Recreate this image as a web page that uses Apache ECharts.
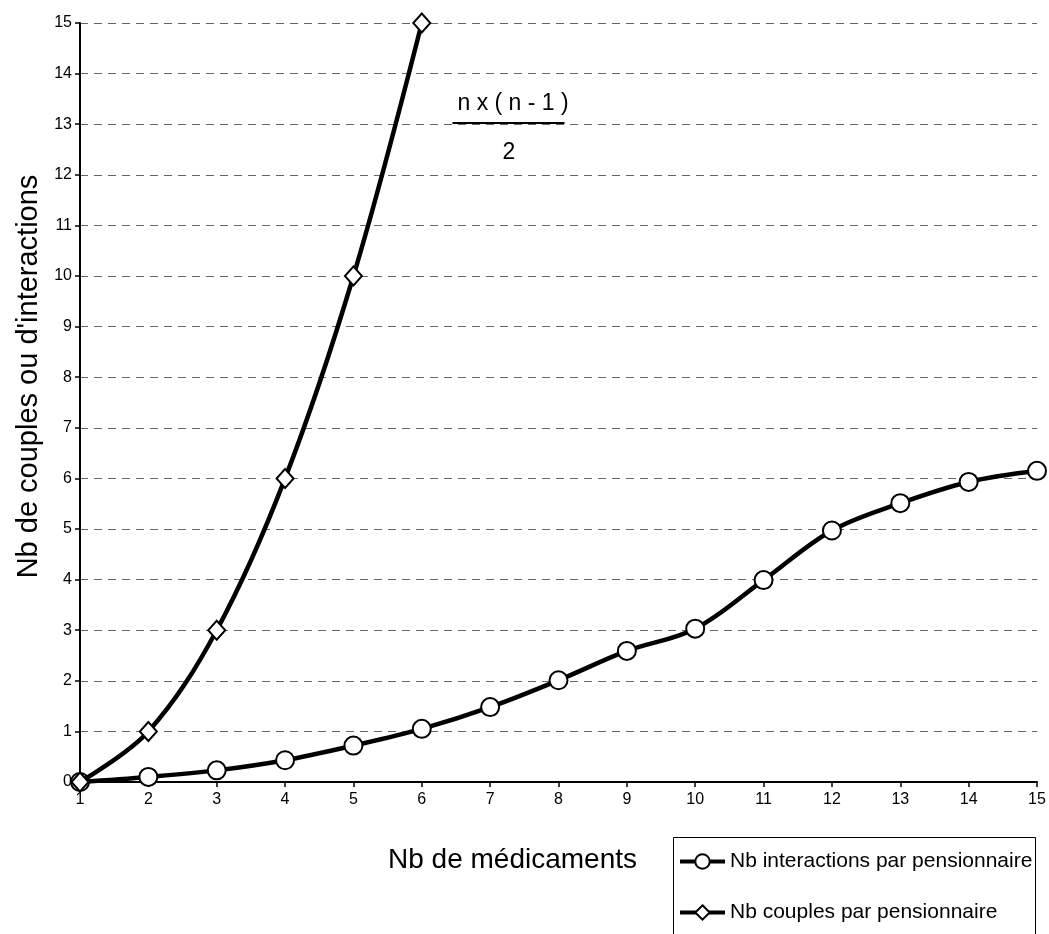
<!DOCTYPE html>
<html>
<head>
<meta charset="utf-8">
<script src="https://cdn.jsdelivr.net/npm/echarts@6/dist/echarts.min.js"></script>
<style>
  html, body { margin: 0; padding: 0; background: #fff; }
  #chart { width: 1049px; height: 934px; }
</style>
</head>
<body>
<div id="chart"></div>
<script>
// Number of drugs per resident (x axis)
const medicaments = [1, 2, 3, 4, 5, 6, 7, 8, 9, 10, 11, 12, 13, 14, 15];
// Observed interactions per resident
const interactions = [0, 0.1, 0.23, 0.43, 0.72, 1.05, 1.48, 2.01, 2.59, 3.03, 3.99, 4.97, 5.51, 5.93, 6.15];
// Possible drug pairs per resident: n x (n - 1) / 2
const couplesX = [1, 2, 3, 4, 5, 6];
const couples = [0, 1, 3, 6, 10, 15];

const seriesNames = ['Nb interactions par pensionnaire', 'Nb couples par pensionnaire'];
const FONT = "'Liberation Sans', Arial, sans-serif";

const chart = echarts.init(document.getElementById('chart'), null, { renderer: 'canvas' });

chart.setOption({
  backgroundColor: '#ffffff',
  animation: false,
  textStyle: { fontFamily: FONT, color: '#000' },
  grid: { left: 80, right: 12, top: 23, bottom: 152, containLabel: false },
  xAxis: {
    type: 'value',
    min: 1, max: 15, interval: 1,
    name: 'Nb de médicaments',
    nameLocation: 'middle',
    nameGap: 64,
    nameTextStyle: { fontSize: 28, fontFamily: FONT, color: '#000', padding: [0, 92, 0, 0] },
    axisLine: { onZero: false, lineStyle: { color: '#000', width: 2 } },
    axisTick: { show: true, length: 5, lineStyle: { color: '#000', width: 1.5 } },
    axisLabel: { fontSize: 16, color: '#000', margin: 10, fontFamily: FONT },
    splitLine: { show: false }
  },
  yAxis: {
    type: 'value',
    min: 0, max: 15, interval: 1,
    name: "Nb de couples ou d'interactions",
    nameLocation: 'middle',
    nameGap: 37,
    nameTextStyle: { fontSize: 29, fontFamily: FONT, color: '#000', padding: [0, 0, 0, 52] },
    axisLine: { show: true, lineStyle: { color: '#000', width: 2 } },
    axisTick: { show: true, length: 5, lineStyle: { color: '#000', width: 1.5 } },
    axisLabel: { fontSize: 16, color: '#000', margin: 8, fontFamily: FONT },
    splitLine: { show: true, lineStyle: { color: '#666', width: 1, type: [8, 6] } }
  },
  legend: {
    orient: 'vertical',
    left: 673,
    top: 837,
    padding: [13, 6, 8, 5],
    itemGap: 28,
    itemWidth: 45,
    itemHeight: 18,
    borderWidth: 0,
    lineStyle: { color: '#000', width: 4 },
    textStyle: { fontSize: 21, fontFamily: FONT, color: '#000', lineHeight: 23 },
    data: seriesNames
  },
  series: [
    {
      name: seriesNames[0],
      type: 'line',
      smooth: 0.35,
      clip: false,
      data: medicaments.map((x, i) => [x, interactions[i]]),
      symbol: 'circle',
      symbolSize: 18,
      lineStyle: { color: '#000', width: 4.5 },
      itemStyle: { color: '#fff', borderColor: '#000', borderWidth: 2 },
      z: 3
    },
    {
      name: seriesNames[1],
      type: 'line',
      smooth: 0.35,
      clip: false,
      data: couplesX.map((x, i) => [x, couples[i]]),
      symbol: 'diamond',
      symbolSize: [17, 19],
      lineStyle: { color: '#000', width: 4.5 },
      itemStyle: { color: '#fff', borderColor: '#000', borderWidth: 2 },
      z: 4
    }
  ],
  graphic: [
    {
      // frame around the legend, running past the bottom edge
      type: 'rect',
      shape: { x: 673.5, y: 837.5, width: 362, height: 120 },
      style: { fill: 'none', stroke: '#000', lineWidth: 1 },
      z: 0
    },
    {
      // formula for the pair count: n x (n - 1) over 2
      type: 'group',
      left: 450,
      top: 92,
      children: [
        { type: 'text', x: 5, y: 0,
          style: { text: 'n x ( n - 1 )', fontSize: 23, fontFamily: FONT, fill: '#000' } },
        { type: 'line', shape: { x1: 0, y1: 31, x2: 112, y2: 31 },
          style: { stroke: '#000', lineWidth: 2 } },
        { type: 'text', x: 50, y: 49,
          style: { text: '2', fontSize: 23, fontFamily: FONT, fill: '#000' } }
      ]
    }
  ]
});
</script>
</body>
</html>
